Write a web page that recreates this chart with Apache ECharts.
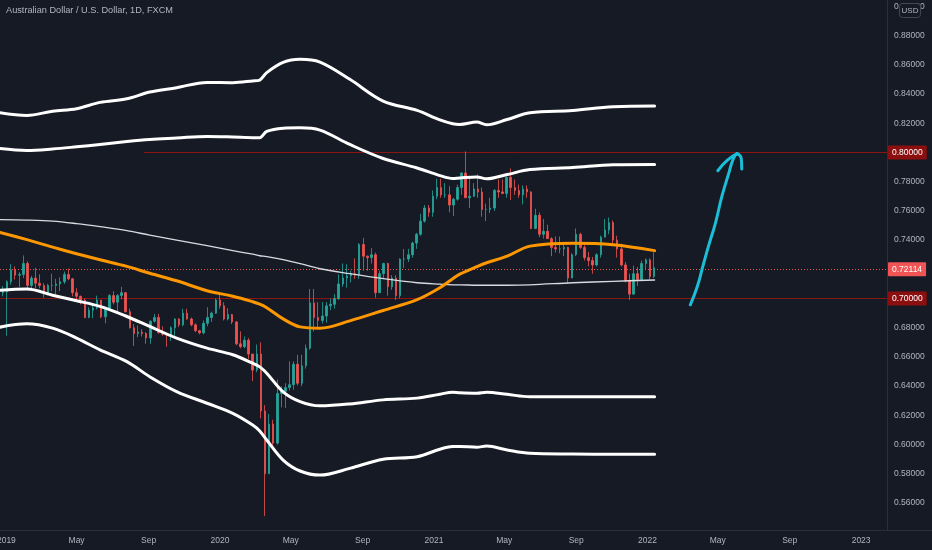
<!DOCTYPE html>
<html><head><meta charset="utf-8">
<script src="https://cdn.jsdelivr.net/npm/echarts@6/dist/echarts.min.js"></script>
<style>html,body{margin:0;padding:0;background:#161a25}#c{width:932px;height:550px}</style>
</head><body><div id="c"></div>
<script>
const FONT = "'Liberation Sans', Arial, sans-serif";
function ts(s){const p=s.split('-').map(Number);return new Date(p[0],p[1]-1,p[2]).getTime();}

// Weekly candles [open, close, low, high], first week centred on 2018-12-26
const firstCandleWeek = [2018, 11, 26];
const candles2019 = [
[.7040,.7045,.7015,.7085],[.7045,.7115,.6745,.7125],[.7115,.7195,.7095,.7235],[.7195,.7160,.7130,.7220],
[.7160,.7165,.7080,.7180],[.7165,.7240,.7140,.7295],[.7240,.7090,.7055,.7255],[.7090,.7140,.7055,.7155],
[.7140,.7105,.7070,.7210],[.7105,.7090,.7070,.7165],[.7090,.7040,.7005,.7105],[.7040,.7090,.7020,.7100],
[.7090,.7090,.7050,.7170],[.7090,.7100,.7025,.7135],[.7100,.7115,.7050,.7145],[.7115,.7165,.7100,.7185],
[.7165,.7135,.7125,.7205],[.7135,.7040,.7015,.7140],[.7040,.7015,.6990,.7070],[.7015,.6990,.6960,.7020],
[.6990,.6870,.6865,.7000],[.6870,.6920,.6865,.6940],[.6920,.6935,.6865,.6955],[.6935,.6990,.6925,.7020],
[.6990,.6875,.6865,.6990],[.6875,.6930,.6830,.6940],[.6930,.7020,.6925,.7030],[.7020,.6975,.6960,.7050],
[.6975,.7020,.6910,.7030],[.7020,.7040,.6995,.7080],[.7040,.6910,.6905,.7045],[.6910,.6800,.6795,.6930],
[.6800,.6760,.6675,.6825],[.6760,.6770,.6735,.6815],[.6770,.6760,.6740,.6790],[.6760,.6730,.6690,.6770],
[.6730,.6845,.6690,.6850],[.6845,.6870,.6835,.6895],[.6870,.6765,.6760,.6895],[.6765,.6755,.6745,.6810],
[.6755,.6750,.6670,.6765],[.6750,.6800,.6710,.6810],[.6800,.6860,.6730,.6865],[.6860,.6820,.6805,.6865],
[.6820,.6900,.6810,.6930],[.6900,.6860,.6855,.6930],[.6860,.6820,.6810,.6870],[.6820,.6780,.6770,.6830],
[.6780,.6765,.6755,.6785],[.6765,.6830,.6755,.6850],[.6830,.6870,.6810,.6940],[.6870,.6900,.6840,.6910],
[.6900,.6990,.6895,.7000]
];
const candles2020 = [
[.6990,.6950,.6930,.7032],[.6950,.6860,.6850,.6975],[.6860,.6890,.6850,.6935],[.6890,.6840,.6825,.6895],
[.6840,.6690,.6680,.6845],[.6690,.6670,.6660,.6775],[.6670,.6715,.6660,.6740],[.6715,.6620,.6585,.6730],
[.6620,.6510,.6435,.6620],[.6510,.6620,.6495,.6685],[.6620,.6230,.6180,.6700],[.6230,.5800,.5510,.6270],
[.5800,.6140,.5800,.6210],[.6140,.6010,.5980,.6170],[.6010,.6350,.6000,.6445],[.6350,.6365,.6255,.6400],
[.6365,.6390,.6250,.6420],[.6390,.6410,.6370,.6570],[.6410,.6550,.6375,.6570],[.6550,.6420,.6405,.6615],
[.6420,.6540,.6400,.6615],[.6540,.6660,.6520,.6685],[.6660,.6970,.6650,.7065],[.6970,.6870,.6775,.7065],
[.6870,.6850,.6800,.6975],[.6850,.6880,.6830,.6975],[.6880,.6950,.6835,.6975],[.6950,.6960,.6920,.7000],
[.6960,.7000,.6930,.7030],[.7000,.7100,.6990,.7165],[.7100,.7140,.7080,.7240],[.7140,.7155,.7075,.7235],
[.7155,.7170,.7110,.7190],[.7170,.7160,.7135,.7275],[.7160,.7370,.7135,.7380],[.7370,.7290,.7190,.7415],
[.7290,.7280,.7190,.7295],[.7280,.7300,.7240,.7345],[.7300,.7040,.7005,.7315],[.7040,.7170,.7040,.7190],
[.7170,.7240,.7140,.7245],[.7240,.7080,.7020,.7245],[.7080,.7140,.7060,.7160],[.7140,.7020,.6990,.7160],
[.7020,.7270,.7000,.7275],[.7270,.7270,.7210,.7340],[.7270,.7300,.7250,.7340],[.7300,.7380,.7280,.7390],
[.7380,.7440,.7340,.7450],[.7440,.7530,.7430,.7580],[.7530,.7620,.7520,.7640],[.7620,.7590,.7560,.7640],
[.7590,.7700,.7560,.7740]
];
const candles2021 = [
[.7700,.7760,.7680,.7820],[.7760,.7710,.7690,.7820],[.7710,.7710,.7690,.7790],[.7710,.7640,.7590,.7770],
[.7640,.7680,.7565,.7690],[.7680,.7760,.7670,.7780],[.7760,.7860,.7710,.7865],[.7860,.7690,.7690,.8007],
[.7690,.7700,.7620,.7840],[.7700,.7750,.7695,.7790],[.7750,.7730,.7690,.7850],[.7730,.7610,.7560,.7760],
[.7610,.7610,.7530,.7650],[.7610,.7620,.7585,.7690],[.7620,.7740,.7600,.7750],[.7740,.7730,.7690,.7815],
[.7730,.7720,.7715,.7815],[.7720,.7830,.7690,.7835],[.7830,.7760,.7675,.7891],[.7760,.7740,.7710,.7815],
[.7740,.7710,.7690,.7780],[.7710,.7750,.7645,.7775],[.7750,.7730,.7690,.7775],[.7730,.7480,.7475,.7735],
[.7480,.7570,.7475,.7615],[.7570,.7440,.7420,.7590],[.7440,.7460,.7410,.7545],[.7460,.7410,.7410,.7505],
[.7410,.7350,.7290,.7420],[.7350,.7340,.7315,.7425],[.7340,.7340,.7310,.7425],[.7340,.7350,.7290,.7380],
[.7350,.7140,.7105,.7355],[.7140,.7300,.7140,.7310],[.7300,.7440,.7290,.7480],[.7440,.7350,.7340,.7450],
[.7350,.7280,.7260,.7365],[.7280,.7260,.7220,.7320],[.7260,.7230,.7170,.7285],[.7230,.7300,.7220,.7310],
[.7300,.7420,.7280,.7430],[.7420,.7470,.7420,.7545],[.7470,.7520,.7440,.7555],[.7520,.7400,.7360,.7535],
[.7400,.7340,.7280,.7430],[.7340,.7230,.7220,.7375],[.7230,.7120,.7110,.7250],[.7120,.7030,.6990,.7170],
[.7030,.7170,.7030,.7225],[.7170,.7130,.7085,.7215],[.7130,.7240,.7125,.7260],[.7240,.7265,.7195,.7275],
[.7265,.7150,.7130,.7275],[.7150,.7211,.7140,.7315]
];

// Indicator lines sampled along time
const bandDates = ['2018-12-21','2019-02-05','2019-03-21','2019-05-01','2019-06-10','2019-07-26','2019-09-03','2019-10-19','2019-12-10','2020-01-23','2020-02-26','2020-03-09','2020-03-21','2020-04-18','2020-05-17','2020-06-20','2020-08-10','2020-10-06','2020-12-03','2021-01-11','2021-02-02','2021-02-14','2021-03-15','2021-04-01','2021-05-06','2021-06-14','2021-08-26','2021-11-03','2022-01-13'];
const upperOuterBand = [0.8272,0.8254,0.8283,0.8300,0.8343,0.8368,0.8414,0.8444,0.8480,0.8478,0.8490,0.8496,0.8547,0.8617,0.8638,0.8619,0.8501,0.8352,0.8288,0.8223,0.8197,0.8192,0.8208,0.8190,0.8226,0.8272,0.8288,0.8314,0.8318];
const upperInnerBand = [0.8027,0.8014,0.8024,0.8039,0.8055,0.8075,0.8089,0.8099,0.8110,0.8106,0.8101,0.8101,0.8144,0.8166,0.8169,0.8153,0.8055,0.7959,0.7894,0.7842,0.7822,0.7826,0.7833,0.7820,0.7849,0.7883,0.7897,0.7916,0.7918];
const lowerInnerBand = [0.7056,0.7065,0.7023,0.6985,0.6946,0.6877,0.6809,0.6729,0.6660,0.6615,0.6557,0.6532,0.6489,0.6361,0.6294,0.6265,0.6278,0.6306,0.6318,0.6345,0.6359,0.6355,0.6352,0.6359,0.6344,0.6327,0.6328,0.6328,0.6328];
const lowerOuterBand = [0.6804,0.6827,0.6797,0.6729,0.6649,0.6568,0.6465,0.6363,0.6283,0.6214,0.6134,0.6093,0.6031,0.5894,0.5819,0.5791,0.5837,0.5899,0.5917,0.5968,0.5986,0.5987,0.5982,0.5990,0.5963,0.5940,0.5935,0.5933,0.5933];
const orangeAverage = [0.7453,0.7403,0.7352,0.7307,0.7266,0.7220,0.7173,0.7122,0.7053,0.7016,0.6978,0.6961,0.6937,0.6861,0.6806,0.6797,0.6847,0.6918,0.6992,0.7074,0.7136,0.7167,0.7218,0.7245,0.7290,0.7359,0.7379,0.7369,0.7328];
const thinAverage = [0.7540,0.7537,0.7530,0.7513,0.7492,0.7465,0.7434,0.7400,0.7362,0.7328,0.7304,0.7293,0.7287,0.7266,0.7239,0.7204,0.7170,0.7136,0.7108,0.7098,0.7094,0.7094,0.7091,0.7091,0.7091,0.7094,0.7108,0.7118,0.7127];

// Hand-drawn arrow (date, price)
const arrowShaftDates = ['2022-03-15','2022-03-27','2022-04-05','2022-04-15','2022-04-27','2022-05-08','2022-05-20','2022-05-28','2022-06-03'];
const arrowShaftValues = [0.6957,0.7083,0.7213,0.7357,0.7517,0.7699,0.7860,0.7962,0.7992];
const arrowLeftDates = ['2022-05-01','2022-05-17','2022-06-03'];
const arrowLeftValues = [0.7875,0.7946,0.7992];
const arrowRightDates = ['2022-06-03','2022-06-10','2022-06-11'];
const arrowRightValues = [0.7992,0.7962,0.7887];

// Axes
const xTickDates = ['2019-01-01','2019-05-01','2019-09-01','2020-01-01','2020-05-01','2020-09-01','2021-01-01','2021-05-01','2021-09-01','2022-01-01','2022-05-01','2022-09-01','2023-01-01'];
const xTickLabels = ['2019','May','Sep','2020','May','Sep','2021','May','Sep','2022','May','Sep','2023'];
const yTicks = [0.56,0.58,0.60,0.62,0.64,0.66,0.68,0.70,0.72,0.74,0.76,0.78,0.80,0.82,0.84,0.86,0.88,0.90];
const lastPrice = 0.72114;
const level70 = 0.70, level80 = 0.80;
const level80Start = '2019-08-24';
const xMin = new Date(2018,11,21,2).getTime();
const xMax = new Date(2023,1,14,6).getTime();

const allCandles = candles2019.concat(candles2020, candles2021);
const candleData = allCandles.map((c,i)=>[new Date(firstCandleWeek[0],firstCandleWeek[1],firstCandleWeek[2]+7*i).getTime(), c[0], c[1], c[2], c[3]]);
const xTickTs = xTickDates.map(ts);
const pair = (ds, vs) => ds.map((d,i)=>[ts(d), vs[i]]);

function band(data, color, width, z){
  return {type:'line', data:data, smooth:0.35, showSymbol:false, symbol:'none', silent:true, z:z,
    lineStyle:{color:color, width:width, cap:'round', join:'round'}};
}
const arrowStyle = {color:'#1bbed6', width:3, cap:'round', join:'round'};
function arrow(data){ return {type:'line', data:data, smooth:0.5, showSymbol:false, symbol:'none', silent:true, z:10, lineStyle:arrowStyle}; }

const chart = echarts.init(document.getElementById('c'), null, {renderer:'canvas'});
const lbl = {show:true, position:'end', distance:1, fontSize:8.5, fontFamily:FONT, color:'#ffffff', padding:[3,4,2,4], borderRadius:1};
const levelLine = {color:'#8a1414', type:'solid', width:1};
const levelLabel = Object.assign({}, lbl, {backgroundColor:'#8b0f0f'});
chart.setOption({
  backgroundColor:'#161a25',
  animation:false,
  grid:{left:0, right:45, top:0, bottom:20, containLabel:false, outerBoundsMode:'none'},
  xAxis:{type:'value', min:xMin, max:xMax, scale:true, splitLine:{show:false},
    axisLine:{show:true, lineStyle:{color:'#2a2e39'}}, axisTick:{show:false},
    axisLabel:{customValues:xTickTs, color:'#b2b5be', fontSize:8.5, fontFamily:FONT, margin:6, hideOverlap:false, alignMinLabel:'center', alignMaxLabel:'center',
      formatter:function(v){ let best=0, bd=Infinity; xTickTs.forEach((t,i)=>{const d=Math.abs(t-v); if(d<bd){bd=d;best=i;}}); return xTickLabels[best]; }}},
  yAxis:{type:'value', position:'right', min:0.5415, max:0.90442, scale:true, splitLine:{show:false},
    axisLine:{show:true, lineStyle:{color:'#2a2e39'}}, axisTick:{show:false},
    axisLabel:{customValues:yTicks, color:'#b2b5be', fontSize:8.5, fontFamily:FONT, margin:7, formatter:v=>v.toFixed(5)}},
  series:[
    {type:'candlestick', data:candleData, barWidth:2, z:2, silent:true,
      itemStyle:{color:'#26a69a', color0:'#ef5350', borderColor:'#26a69a', borderColor0:'#ef5350', borderWidth:0.8},
      markLine:{symbol:['none','none'], silent:true, animation:false, z:1, label:levelLabel, lineStyle:levelLine,
        data:[
          {yAxis:level70, lineStyle:levelLine, label:Object.assign({}, levelLabel, {formatter:level70.toFixed(5)})},
          [{coord:[ts(level80Start), level80], lineStyle:levelLine, label:Object.assign({}, levelLabel, {formatter:level80.toFixed(5)})},
           {coord:[xMax, level80], lineStyle:levelLine, label:Object.assign({}, levelLabel, {formatter:level80.toFixed(5)})}],
          {yAxis:lastPrice, lineStyle:{color:'#ef5350', type:[1,2], width:1}, label:Object.assign({}, lbl, {formatter:lastPrice.toFixed(5), backgroundColor:'#f05454'})}
        ]}},
    band(pair(bandDates, thinAverage), '#d9dbe1', 1.3, 3),
    band(pair(bandDates, orangeAverage), '#ff9800', 3, 4),
    band(pair(bandDates, upperOuterBand), '#ffffff', 3, 4),
    band(pair(bandDates, upperInnerBand), '#ffffff', 3, 4),
    band(pair(bandDates, lowerInnerBand), '#ffffff', 3, 4),
    band(pair(bandDates, lowerOuterBand), '#ffffff', 3, 4),
    arrow(pair(arrowShaftDates, arrowShaftValues)),
    arrow(pair(arrowLeftDates, arrowLeftValues)),
    arrow(pair(arrowRightDates, arrowRightValues))
  ],
  graphic:[
    {type:'text', left:6, top:6, z:100, style:{text:'Australian Dollar / U.S. Dollar, 1D, FXCM', fill:'#b2b5be', fontSize:9.2, fontFamily:FONT}},
    {type:'line', z:100, shape:{x1:887, y1:530.5, x2:932, y2:530.5}, style:{stroke:'#2a2e39', lineWidth:1}},
    {type:'rect', z:100, shape:{x:899.5, y:3.5, width:21, height:14, r:3}, style:{fill:'#161a25', stroke:'#434651', lineWidth:1}},
    {type:'text', z:101, x:910, y:10.5, style:{text:'USD', fill:'#b2b5be', fontSize:8, fontFamily:FONT, align:'center', verticalAlign:'middle'}}
  ]
});
</script></body></html>
